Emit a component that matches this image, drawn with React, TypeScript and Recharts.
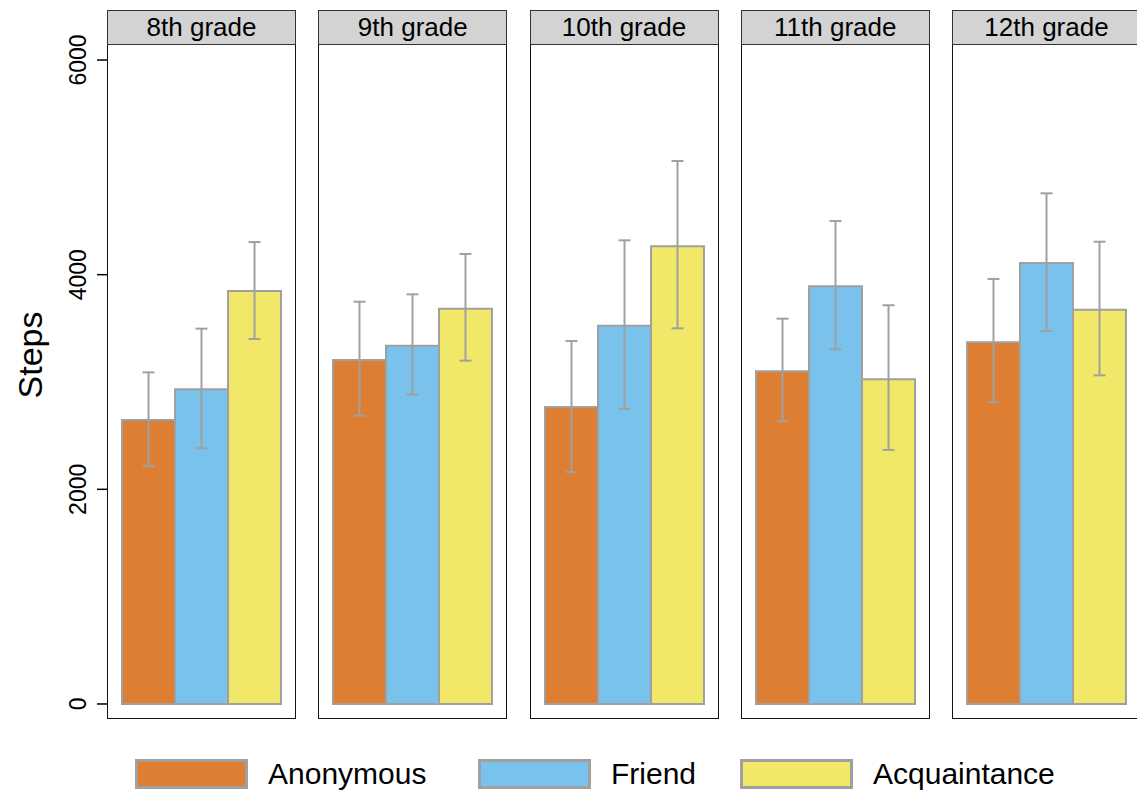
import React from "react";
import { BarChart, Bar, Cell, ErrorBar, XAxis, YAxis } from "recharts";

const grades = ["8th grade", "9th grade", "10th grade", "11th grade", "12th grade"];
const conditions = ["Anonymous", "Friend", "Acquaintance"];
const colors = ["#de7e33", "#78c2ec", "#f1e768"];

// mean steps and error bar ends, one entry per grade
const anonymousMean = [2646, 3205, 2767, 3100, 3370];
const anonymousLow = [2217, 2686, 2162, 2634, 2811];
const anonymousHigh = [3090, 3748, 3382, 3590, 3960];

const friendMean = [2932, 3338, 3525, 3892, 4109];
const friendLow = [2382, 2882, 2751, 3305, 3475];
const friendHigh = [3497, 3817, 4320, 4500, 4758];

const acquaintanceMean = [3848, 3683, 4264, 3025, 3674];
const acquaintanceLow = [3401, 3199, 3500, 2367, 3062];
const acquaintanceHigh = [4304, 4193, 5059, 3715, 4307];

const yTicks = [0, 2000, 4000, 6000];

const means = [anonymousMean, friendMean, acquaintanceMean];
const lows = [anonymousLow, friendLow, acquaintanceLow];
const highs = [anonymousHigh, friendHigh, acquaintanceHigh];

const FONT = '"Liberation Sans", Arial, Helvetica, sans-serif';
const PANEL_LEFT = 107;
const PANEL_STEP = 211.25;
const PANEL_W = 189;
const PLOT_TOP = 45;
const PLOT_H = 674;
const EXTRA_TOP = 40; // room above the plot so the top tick label isn't clipped
const DOMAIN: [number, number] = [-140, 6140];

function panelData(g: number) {
  return conditions.map((c, j) => ({
    condition: c,
    mean: means[j][g],
    err: [means[j][g] - lows[j][g], highs[j][g] - means[j][g]],
  }));
}

function YTick(props: any) {
  const { y, payload } = props;
  return (
    <text
      x={0}
      y={0}
      transform={`translate(78, ${y}) rotate(-90)`}
      textAnchor="middle"
      dominantBaseline="central"
      fontSize={23}
      fill="#000"
      fontFamily={FONT}
    >
      {payload.value}
    </text>
  );
}

function Panel({ g }: { g: number }) {
  const first = g === 0;
  const left = PANEL_LEFT + g * PANEL_STEP;
  const chartLeft = first ? 0 : left;
  const chartW = first ? PANEL_LEFT + PANEL_W : PANEL_W;
  return (
    <>
      <div
        style={{
          position: "absolute",
          left: chartLeft,
          top: PLOT_TOP - EXTRA_TOP,
        }}
      >
        <BarChart
          width={chartW}
          height={PLOT_H + EXTRA_TOP}
          data={panelData(g)}
          margin={{ top: EXTRA_TOP, right: 0, bottom: 0, left: 0 }}
          barCategoryGap={0}
        >
          <XAxis dataKey="condition" hide padding={{ left: 15, right: 15 }} />
          <YAxis
            hide={!first}
            width={PANEL_LEFT}
            domain={DOMAIN}
            ticks={yTicks}
            allowDataOverflow
            axisLine={false}
            tickSize={10}
            tickLine={{ stroke: "#000", strokeWidth: 1.5 }}
            tick={<YTick />}
          />
          <Bar
            dataKey="mean"
            stroke="#a0a0a0"
            strokeWidth={2}
            isAnimationActive={false}
          >
            {conditions.map((c, j) => (
              <Cell key={c} fill={colors[j]} />
            ))}
            <ErrorBar
              dataKey="err"
              direction="y"
              width={6}
              stroke="#a0a0a0"
              strokeWidth={2}
              isAnimationActive={false}
            />
          </Bar>
        </BarChart>
      </div>
      {/* panel frame */}
      <div
        style={{
          position: "absolute",
          left,
          top: 44,
          width: PANEL_W,
          height: 675,
          border: "1.5px solid #111",
          boxSizing: "border-box",
          pointerEvents: "none",
        }}
      />
      {/* strip */}
      <div
        style={{
          position: "absolute",
          left,
          top: 10,
          width: PANEL_W,
          height: 35,
          background: "#d3d3d3",
          border: "1.5px solid #333",
          boxSizing: "border-box",
          fontSize: 26,
          lineHeight: "32px",
          textAlign: "center",
          color: "#000",
        }}
      >
        {grades[g]}
      </div>
    </>
  );
}

const legendX = [135, 478, 740];

export default function App() {
  return (
    <div
      style={{
        position: "absolute",
        left: 0,
        top: 0,
        width: 1137,
        height: 794,
        overflow: "hidden",
        background: "#fff",
        fontFamily: FONT,
      }}
    >
      {grades.map((_, g) => (
        <Panel key={g} g={g} />
      ))}
      <div
        style={{
          position: "absolute",
          left: 30,
          top: 355,
          transform: "translate(-50%, -50%) rotate(-90deg)",
          fontSize: 34,
          whiteSpace: "nowrap",
        }}
      >
        Steps
      </div>
      {conditions.map((c, j) => (
        <React.Fragment key={c}>
          <div
            style={{
              position: "absolute",
              left: legendX[j],
              top: 759,
              width: 113,
              height: 30,
              background: colors[j],
              border: "3px solid #a0a0a0",
              boxSizing: "border-box",
            }}
          />
          <div
            style={{
              position: "absolute",
              left: legendX[j] + 133,
              top: 757,
              fontSize: 30,
              lineHeight: "34px",
              whiteSpace: "nowrap",
            }}
          >
            {c}
          </div>
        </React.Fragment>
      ))}
    </div>
  );
}
